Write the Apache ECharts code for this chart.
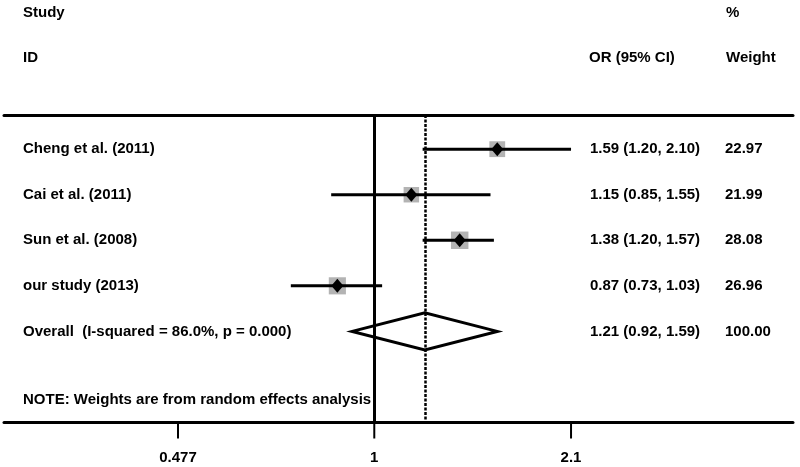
<!DOCTYPE html>
<html><head><meta charset="utf-8">
<script src="https://cdn.jsdelivr.net/npm/echarts@6/dist/echarts.min.js"></script>
<style>html,body{margin:0;padding:0;background:#fff}#c{width:800px;height:467px}</style>
</head><body><div id="c"></div>
<script>
// ---- data ----
const studies = ['Cheng et al. (2011)', 'Cai et al. (2011)', 'Sun et al. (2008)', 'our study (2013)'];
const orValues = [1.59, 1.15, 1.38, 0.87];
const ciLower = [1.20, 0.85, 1.20, 0.73];
const ciUpper = [2.10, 1.55, 1.57, 1.03];
const weights = [22.97, 21.99, 28.08, 26.96];
const orTexts = ['1.59 (1.20, 2.10)', '1.15 (0.85, 1.55)', '1.38 (1.20, 1.57)', '0.87 (0.73, 1.03)'];
const weightTexts = ['22.97', '21.99', '28.08', '26.96'];
const overallLabel = 'Overall  (I-squared = 86.0%, p = 0.000)';
const overallOR = 1.21, overallLower = 0.92, overallUpper = 1.59;
const overallText = '1.21 (0.92, 1.59)';
const overallWeightText = '100.00';
const tickValues = [0.477, 1, 2.1];
const tickLabels = ['0.477', '1', '2.1'];
const nullValue = 1;
const noteText = 'NOTE: Weights are from random effects analysis';

// ---- layout ----
const FONT = 'bold 15px "Liberation Sans", Arial, sans-serif';
const Y_MIN = 0.25, Y_MAX = 7;
const chart = echarts.init(document.getElementById('c'), null, {renderer: 'canvas'});

const studyData = studies.map((s, i) => [orValues[i], ciLower[i], ciUpper[i], i + 1, weights[i]]);
const overallRow = studies.length + 1;

const option = {
  animation: false,
  backgroundColor: '#fff',
  grid: {left: 4, right: 7, top: 115, bottom: 44.5, containLabel: false},
  xAxis: [{
    type: 'log', min: 0.2475, max: 4.85, logBase: Math.E,
    axisLine: {onZero: false, lineStyle: {color: '#000', width: 3}},
    axisTick: {show: false}, axisLabel: {show: false}, splitLine: {show: false}
  }, {
    type: 'value', position: 'top', min: 0, max: 1,
    axisLine: {onZero: false, lineStyle: {color: '#000', width: 3}},
    axisTick: {show: false}, axisLabel: {show: false}, splitLine: {show: false}
  }],
  yAxis: {type: 'value', inverse: true, min: Y_MIN, max: Y_MAX, show: false},
  series: [{
    type: 'custom', name: 'studies', xAxisIndex: 0,
    data: studyData,
    encode: {x: [0, 1, 2], y: 3},
    renderItem(params, api) {
      const pc = api.coord([api.value(0), api.value(3)]);
      const pl = api.coord([api.value(1), api.value(3)]);
      const ph = api.coord([api.value(2), api.value(3)]);
      const s = 3.3 * Math.sqrt(api.value(4));
      return {type: 'group', children: [
        {type: 'rect', shape: {x: pc[0] - s / 2, y: pc[1] - s / 2, width: s, height: s}, style: {fill: '#b3b3b3'}},
        {type: 'line', shape: {x1: pl[0], y1: pl[1], x2: ph[0], y2: ph[1]}, style: {stroke: '#000', lineWidth: 3}},
        {type: 'polygon', shape: {points: [[pc[0], pc[1] - 7], [pc[0] + 6, pc[1]], [pc[0], pc[1] + 7], [pc[0] - 6, pc[1]]]}, style: {fill: '#000'}}
      ]};
    },
    markLine: {
      silent: true, symbol: 'none', label: {show: false},
      data: [
        {xAxis: nullValue, lineStyle: {color: '#000', width: 3, type: 'solid'}},
        {xAxis: overallOR, lineStyle: {color: '#000', width: 2.5, type: [3, 1.5]}}
      ]
    },
    z: 3
  }, {
    type: 'custom', name: 'overall', xAxisIndex: 0,
    data: [[overallOR, overallLower, overallUpper, overallRow]],
    encode: {x: [0, 1, 2], y: 3},
    renderItem(params, api) {
      const pc = api.coord([api.value(0), api.value(3)]);
      const pl = api.coord([api.value(1), api.value(3)]);
      const ph = api.coord([api.value(2), api.value(3)]);
      const h = 18.5;
      return {type: 'polygon', shape: {points: [[pl[0], pc[1]], [pc[0], pc[1] - h], [ph[0], pc[1]], [pc[0], pc[1] + h]]},
        style: {fill: 'rgba(0,0,0,0)', stroke: '#000', lineWidth: 3}};
    },
    z: 4
  }, {
    type: 'custom', name: 'ticks', xAxisIndex: 0, clip: false,
    data: tickValues.map((v, i) => [v, Y_MAX, i]),
    encode: {x: 0, y: 1},
    renderItem(params, api) {
      const p = api.coord([api.value(0), api.value(1)]);
      return {type: 'group', children: [
        {type: 'line', shape: {x1: p[0], y1: p[1], x2: p[0], y2: p[1] + 16}, style: {stroke: '#000', lineWidth: 2}},
        {type: 'text', x: p[0], y: p[1] + 35, style: {text: tickLabels[api.value(2)], font: FONT, fill: '#000', align: 'center', verticalAlign: 'middle'}}
      ]};
    },
    z: 5
  }]
};
chart.setOption(option);

function rowY(r) { return chart.convertToPixel({xAxisIndex: 0, yAxisIndex: 0}, [1, r])[1]; }
const texts = [];
function addText(str, x, row) {
  texts.push({type: 'text', x: x, y: rowY(row), style: {text: str, font: FONT, fill: '#000', align: 'left', verticalAlign: 'middle'}});
}
addText('Study', 23, -2);
addText('ID', 23, -1);
addText('%', 726, -2);
addText('OR (95% CI)', 589, -1);
addText('Weight', 726, -1);
studies.forEach((s, i) => {
  addText(s, 23, i + 1);
  addText(orTexts[i], 590, i + 1);
  addText(weightTexts[i], 725, i + 1);
});
addText(overallLabel, 23, overallRow);
addText(overallText, 590, overallRow);
addText(overallWeightText, 725, overallRow);
addText(noteText, 23, overallRow + 1.5);
chart.setOption({graphic: texts});
</script>
</body></html>
